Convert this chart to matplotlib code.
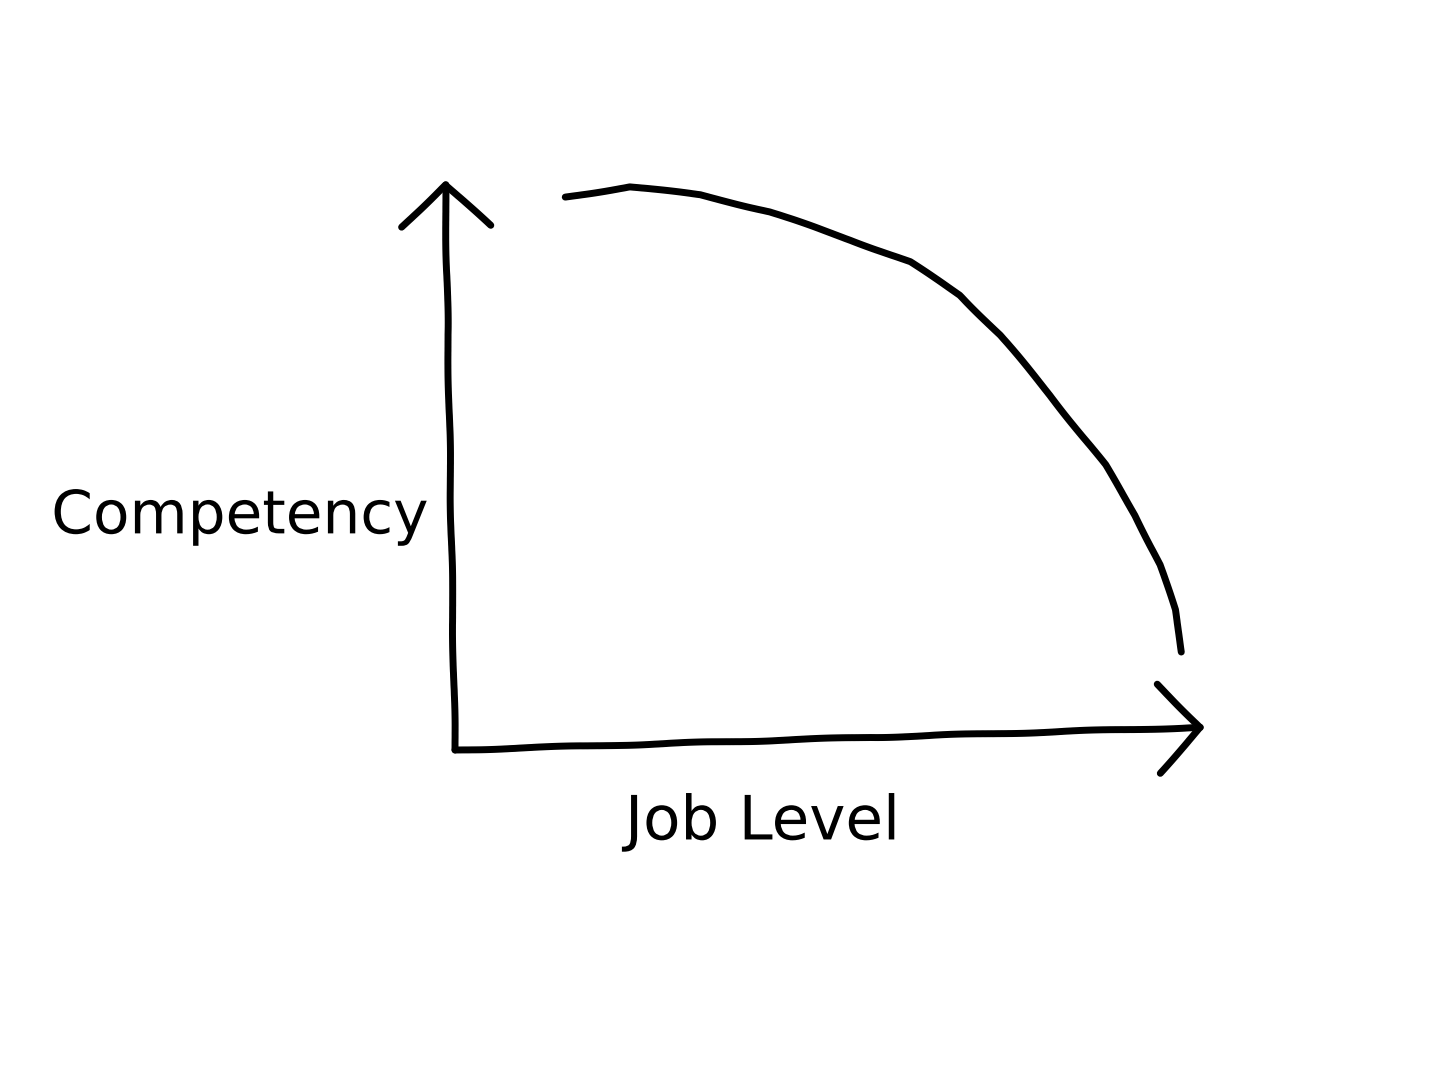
import matplotlib
matplotlib.use("Agg")
import matplotlib.pyplot as plt

# sketched curve (job level vs competency)
job_level = [1.47, 2.33, 3.27, 4.2, 5.27, 6.07, 6.73, 7.27, 7.93, 8.67, 9.07, 9.4, 9.6, 9.69]
competency = [9.70, 9.88, 9.74, 9.44, 8.95, 8.56, 7.98, 7.28, 6.23, 5.0, 4.12, 3.25, 2.46, 1.72]

x_label = "Job Level"
y_label = "Competency"

with plt.xkcd(scale=0.6, length=150, randomness=2):
    plt.rcParams['font.family'] = ['DejaVu Sans']
    fig = plt.figure(figsize=(14.4, 10.8), dpi=100)
    ax = fig.add_axes([455 / 1440, 330 / 1080, 750 / 1440, 570 / 1080])
    ax.set_xlim(0, 10)
    ax.set_ylim(0, 10)
    ax.axis('off')

    ax.plot(job_level, competency, color='black', lw=5, solid_capstyle='round')

    # axes as hand drawn arrows
    head = '->,head_length=0.75,head_width=0.8'
    ax.annotate('', xy=(10, 0.4), xytext=(0, 0),
                arrowprops=dict(arrowstyle=head, lw=5, color='black', mutation_scale=40,
                                shrinkA=0, shrinkB=0),
                annotation_clip=False)
    ax.annotate('', xy=(-0.13, 10), xytext=(0, 0),
                arrowprops=dict(arrowstyle=head, lw=5, color='black', mutation_scale=40,
                                shrinkA=0, shrinkB=0),
                annotation_clip=False)

    ax.text(4.1, -1.28, x_label, fontsize=44, ha='center', va='center', clip_on=False)
    ax.text(-2.87, 4.09, y_label, fontsize=43, ha='center', va='center', clip_on=False)

    fig.savefig("out.png", dpi=100, facecolor='white')
